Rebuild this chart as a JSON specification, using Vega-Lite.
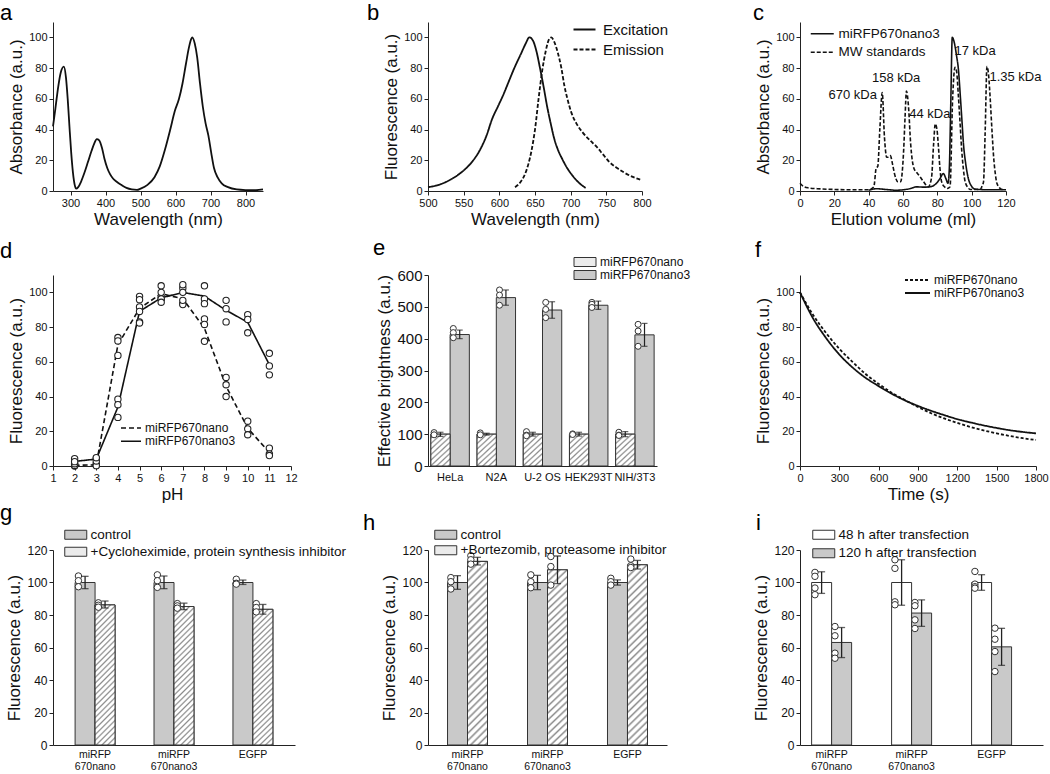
{
"$schema": "https://vega.github.io/schema/vega-lite/v6.json",
"background": "white",
"padding": {"left": 0, "top": 2, "right": 4, "bottom": 2},
"columns": 3,
"bounds": "flush",
"align": "each",
"spacing": {"row": 84, "column": 133},
"resolve": {"scale": {"fill": "independent", "strokeDash": "independent"}, "legend": {"fill": "independent", "strokeDash": "independent"}},
"config": {
  "font": "Liberation Sans",
  "view": {"stroke": null},
  "axis": {"domainColor": "#222", "tickColor": "#222", "labelColor": "#111", "titleColor": "#111", "grid": false, "tickSize": 4, "labelFontSize": 11, "titleFontSize": 17, "titleFontWeight": "normal", "labelFlush": false, "labelOverlap": false, "labelPadding": 2, "titlePadding": 3, "labelFont": "Liberation Sans", "titleFont": "Liberation Sans"},
  "axisBand": {"ticks": false, "labelAngle": 0},
  "legend": {"orient": "none", "labelFont": "Liberation Sans", "labelColor": "#111", "padding": 0, "rowPadding": 2},
  "title": {"anchor": "start", "frame": "group", "fontSize": 22, "fontWeight": "normal", "font": "Liberation Sans", "baseline": "alphabetic", "color": "#000"}
},
"concat": [
{
  "width": 210, "height": 169,
  "title": {"text": "a", "dx": -53, "offset": -3},
  "data": {"values": [
    {"nm":250,"abs":42},{"nm":257,"abs":54},{"nm":265,"abs":68},{"nm":272,"abs":77},{"nm":281,"abs":81},{"nm":287,"abs":74},{"nm":292,"abs":60},{"nm":297,"abs":42},{"nm":302,"abs":25},{"nm":307,"abs":12},{"nm":312,"abs":4},{"nm":316,"abs":1.5},{"nm":322,"abs":2.5},{"nm":330,"abs":6},{"nm":340,"abs":12},{"nm":350,"abs":19},{"nm":360,"abs":26},{"nm":368,"abs":31},{"nm":375,"abs":33.8},{"nm":382,"abs":33},{"nm":390,"abs":28},{"nm":397,"abs":21},{"nm":405,"abs":15},{"nm":413,"abs":11},{"nm":422,"abs":8},{"nm":432,"abs":6},{"nm":445,"abs":4},{"nm":460,"abs":2},{"nm":475,"abs":1},{"nm":490,"abs":0.7},{"nm":500,"abs":1.5},{"nm":520,"abs":4},{"nm":540,"abs":9},{"nm":555,"abs":16},{"nm":570,"abs":27},{"nm":585,"abs":40},{"nm":598,"abs":52},{"nm":610,"abs":60},{"nm":620,"abs":70},{"nm":630,"abs":83},{"nm":638,"abs":93},{"nm":645,"abs":99},{"nm":648,"abs":100},{"nm":655,"abs":96},{"nm":662,"abs":87},{"nm":670,"abs":70},{"nm":678,"abs":55},{"nm":686,"abs":44},{"nm":694,"abs":36},{"nm":702,"abs":25},{"nm":710,"abs":15},{"nm":720,"abs":9},{"nm":732,"abs":5},{"nm":750,"abs":2.5},{"nm":775,"abs":1},{"nm":800,"abs":0.6},{"nm":830,"abs":0.5},{"nm":850,"abs":1}
  ]},
  "mark": {"type": "line", "interpolate": "monotone", "color": "#111", "strokeWidth": 1.8},
  "encoding": {
    "x": {"field": "nm", "type": "quantitative", "scale": {"domain": [250, 850], "nice": false, "zero": false}, "axis": {"values": [300,400,500,600,700,800], "title": "Wavelength (nm)", "labelOverlap": false}},
    "y": {"field": "abs", "type": "quantitative", "scale": {"domain": [0, 110], "nice": false}, "axis": {"values": [0,20,40,60,80,100], "title": "Absorbance (a.u.)", "labelOverlap": false}}
  }
},
{
  "width": 214, "height": 169,
  "title": {"text": "b", "dx": -61, "offset": -3},
  "data": {"values": [
    {"s":"Excitation","nm":500,"v":2.5},{"s":"Excitation","nm":515,"v":4},{"s":"Excitation","nm":530,"v":7},{"s":"Excitation","nm":545,"v":11.5},{"s":"Excitation","nm":560,"v":18},{"s":"Excitation","nm":572,"v":26},{"s":"Excitation","nm":582,"v":36},{"s":"Excitation","nm":590,"v":47},{"s":"Excitation","nm":598,"v":55},{"s":"Excitation","nm":605,"v":62},{"s":"Excitation","nm":613,"v":71},{"s":"Excitation","nm":621,"v":80},{"s":"Excitation","nm":630,"v":89},{"s":"Excitation","nm":637,"v":96},{"s":"Excitation","nm":642,"v":100},{"s":"Excitation","nm":647,"v":98},{"s":"Excitation","nm":652,"v":91},{"s":"Excitation","nm":657,"v":80},{"s":"Excitation","nm":662,"v":68},{"s":"Excitation","nm":667,"v":55},{"s":"Excitation","nm":672,"v":44},{"s":"Excitation","nm":677,"v":34},{"s":"Excitation","nm":682,"v":27},{"s":"Excitation","nm":688,"v":21},{"s":"Excitation","nm":695,"v":15},{"s":"Excitation","nm":701,"v":11},{"s":"Excitation","nm":708,"v":7},{"s":"Excitation","nm":715,"v":4},{"s":"Excitation","nm":721,"v":2},
    {"s":"Emission","nm":622,"v":2.5},{"s":"Emission","nm":630,"v":6},{"s":"Emission","nm":636,"v":11},{"s":"Emission","nm":641,"v":18},{"s":"Emission","nm":645,"v":26},{"s":"Emission","nm":650,"v":40},{"s":"Emission","nm":655,"v":60},{"s":"Emission","nm":660,"v":78},{"s":"Emission","nm":665,"v":91},{"s":"Emission","nm":670,"v":99},{"s":"Emission","nm":673,"v":100},{"s":"Emission","nm":677,"v":97},{"s":"Emission","nm":682,"v":90},{"s":"Emission","nm":687,"v":80},{"s":"Emission","nm":691,"v":69},{"s":"Emission","nm":696,"v":59},{"s":"Emission","nm":701,"v":51},{"s":"Emission","nm":708,"v":44},{"s":"Emission","nm":717,"v":38},{"s":"Emission","nm":727,"v":33},{"s":"Emission","nm":736,"v":29},{"s":"Emission","nm":745,"v":24},{"s":"Emission","nm":754,"v":19},{"s":"Emission","nm":765,"v":15},{"s":"Emission","nm":775,"v":12},{"s":"Emission","nm":788,"v":9},{"s":"Emission","nm":800,"v":7}
  ]},
  "mark": {"type": "line", "interpolate": "monotone", "color": "#111", "strokeWidth": 1.8},
  "encoding": {
    "x": {"field": "nm", "type": "quantitative", "scale": {"domain": [500, 800], "nice": false, "zero": false}, "axis": {"values": [500,550,600,650,700,750,800], "title": "Wavelength (nm)", "labelOverlap": false}},
    "y": {"field": "v", "type": "quantitative", "scale": {"domain": [0, 110], "nice": false}, "axis": {"values": [0,20,40,60,80,100], "title": "Fluorescence (a.u.)", "labelOverlap": false}},
    "strokeDash": {"field": "s", "type": "nominal", "scale": {"domain": ["Excitation", "Emission"], "range": [[1,0],[4,2]]}, "legend": {"title": null, "legendX": 143, "legendY": 0, "labelFontSize": 15, "symbolType": "M-1,0H3.4", "symbolSize": 100, "symbolFillColor": "transparent", "symbolStrokeWidth": 1.8, "symbolStrokeColor": "#111", "labelOffset": 17, "rowPadding": 4}}
  }
},
{
  "width": 206, "height": 169,
  "title": {"text": "c", "dx": -47, "offset": -3},
  "resolve": {"axis": {"x": "independent", "y": "independent"}},
  "layer": [
    {
      "data": {"values": [
        {"s":"MW standards","ml":0,"v":5},{"s":"MW standards","ml":2,"v":3},{"s":"MW standards","ml":5,"v":2},{"s":"MW standards","ml":10,"v":1.5},{"s":"MW standards","ml":20,"v":1},{"s":"MW standards","ml":30,"v":0.8},{"s":"MW standards","ml":40,"v":0.8},{"s":"MW standards","ml":43,"v":2.7},{"s":"MW standards","ml":44.4,"v":15},{"s":"MW standards","ml":45.3,"v":16},{"s":"MW standards","ml":46.5,"v":40},{"s":"MW standards","ml":47.9,"v":64},{"s":"MW standards","ml":49.2,"v":35},{"s":"MW standards","ml":50.5,"v":22},{"s":"MW standards","ml":51.5,"v":22},{"s":"MW standards","ml":52.6,"v":23},{"s":"MW standards","ml":54,"v":17},{"s":"MW standards","ml":55.1,"v":11},{"s":"MW standards","ml":57,"v":6},{"s":"MW standards","ml":58.6,"v":6},{"s":"MW standards","ml":60.4,"v":27},{"s":"MW standards","ml":61.2,"v":48},{"s":"MW standards","ml":62,"v":65},{"s":"MW standards","ml":63.2,"v":55},{"s":"MW standards","ml":64.5,"v":30},{"s":"MW standards","ml":66.3,"v":15},{"s":"MW standards","ml":68,"v":12},{"s":"MW standards","ml":69.8,"v":9.5},{"s":"MW standards","ml":72,"v":6},{"s":"MW standards","ml":74.7,"v":2.7},{"s":"MW standards","ml":76.6,"v":8.4},{"s":"MW standards","ml":77.8,"v":30},{"s":"MW standards","ml":78.8,"v":43.6},{"s":"MW standards","ml":79.8,"v":40},{"s":"MW standards","ml":80.5,"v":31},{"s":"MW standards","ml":81.5,"v":15},{"s":"MW standards","ml":82.5,"v":6},{"s":"MW standards","ml":84.4,"v":2.5},{"s":"MW standards","ml":85.8,"v":1.6},{"s":"MW standards","ml":87.4,"v":2.7},{"s":"MW standards","ml":88.9,"v":60},{"s":"MW standards","ml":90.3,"v":80.5},{"s":"MW standards","ml":91.2,"v":78},{"s":"MW standards","ml":92.2,"v":63},{"s":"MW standards","ml":93.2,"v":45},{"s":"MW standards","ml":94.2,"v":26.6},{"s":"MW standards","ml":95.2,"v":14},{"s":"MW standards","ml":96.2,"v":6},{"s":"MW standards","ml":98,"v":2},{"s":"MW standards","ml":99,"v":1},{"s":"MW standards","ml":105,"v":1},{"s":"MW standards","ml":106,"v":3},{"s":"MW standards","ml":106.9,"v":6},{"s":"MW standards","ml":107.9,"v":40},{"s":"MW standards","ml":108.9,"v":81},{"s":"MW standards","ml":109.9,"v":75},{"s":"MW standards","ml":110.8,"v":60},{"s":"MW standards","ml":111.8,"v":40},{"s":"MW standards","ml":112.8,"v":22},{"s":"MW standards","ml":113.8,"v":11},{"s":"MW standards","ml":114.7,"v":5},{"s":"MW standards","ml":116.7,"v":1.6},{"s":"MW standards","ml":118,"v":1},
        {"s":"miRFP670nano3","ml":40,"v":0.5},{"s":"miRFP670nano3","ml":45,"v":1.5},{"s":"miRFP670nano3","ml":48,"v":1.2},{"s":"miRFP670nano3","ml":52,"v":0.8},{"s":"miRFP670nano3","ml":56,"v":0.5},{"s":"miRFP670nano3","ml":60,"v":0.8},{"s":"miRFP670nano3","ml":64,"v":1.5},{"s":"miRFP670nano3","ml":68,"v":2.7},{"s":"miRFP670nano3","ml":72,"v":2.5},{"s":"miRFP670nano3","ml":76,"v":2.8},{"s":"miRFP670nano3","ml":79,"v":4.5},{"s":"miRFP670nano3","ml":81.5,"v":8},{"s":"miRFP670nano3","ml":83.5,"v":11.4},{"s":"miRFP670nano3","ml":85,"v":8},{"s":"miRFP670nano3","ml":86.2,"v":5},{"s":"miRFP670nano3","ml":87,"v":15},{"s":"miRFP670nano3","ml":87.8,"v":55},{"s":"miRFP670nano3","ml":88.7,"v":100},{"s":"miRFP670nano3","ml":90,"v":96},{"s":"miRFP670nano3","ml":91.2,"v":88},{"s":"miRFP670nano3","ml":92.2,"v":80},{"s":"miRFP670nano3","ml":93.5,"v":60},{"s":"miRFP670nano3","ml":94.5,"v":43},{"s":"miRFP670nano3","ml":95.2,"v":31},{"s":"miRFP670nano3","ml":96.5,"v":18},{"s":"miRFP670nano3","ml":98,"v":8.4},{"s":"miRFP670nano3","ml":100,"v":3},{"s":"miRFP670nano3","ml":102,"v":1.2},{"s":"miRFP670nano3","ml":110,"v":0.8},{"s":"miRFP670nano3","ml":120,"v":0.8}
      ]},
      "mark": {"type": "line", "interpolate": "monotone", "color": "#111", "strokeWidth": 1.6},
      "encoding": {
        "x": {"field": "ml", "type": "quantitative", "scale": {"domain": [0, 120], "nice": false}, "axis": {"values": [0,20,40,60,80,100,120], "title": "Elution volume (ml)", "labelOverlap": false}},
        "y": {"field": "v", "type": "quantitative", "scale": {"domain": [0, 110], "nice": false}, "axis": {"values": [0,20,40,60,80,100], "title": "Absorbance (a.u.)", "labelOverlap": false}},
        "strokeDash": {"field": "s", "type": "nominal", "scale": {"domain": ["miRFP670nano3", "MW standards"], "range": [[1,0],[4,2]]}, "legend": {"title": null, "legendX": 9, "legendY": 5, "labelFontSize": 13.5, "symbolType": "M-1,0H3.6", "symbolSize": 100, "symbolFillColor": "transparent", "symbolStrokeWidth": 1.7, "symbolStrokeColor": "#111", "labelOffset": 16, "rowPadding": 3.5}}
      }
    },
    {
      "data": {"values": [
        {"label":"670 kDa","ml":30.7,"v":62.5},{"label":"158 kDa","ml":56,"v":73.6},{"label":"44 kDa","ml":75.6,"v":49.8},{"label":"17 kDa","ml":102,"v":91.4},{"label":"1.35 kDa","ml":125.5,"v":74.3}
      ]},
      "mark": {"type": "text", "fontSize": 13, "color": "#111", "align": "center", "baseline": "middle"},
      "encoding": {
        "x": {"field": "ml", "type": "quantitative", "axis": null},
        "y": {"field": "v", "type": "quantitative", "axis": null},
        "text": {"field": "label"}
      }
    }
  ]
},
{
  "width": 238, "height": 191,
  "title": {"text": "d", "dx": -53, "offset": 12},
  "resolve": {"axis": {"x": "independent", "y": "independent"}},
  "data": {"values": [
    {"s":"miRFP670nano","pH":2,"v":0.8},{"s":"miRFP670nano","pH":2,"v":0},{"s":"miRFP670nano","pH":2,"v":0.3},
    {"s":"miRFP670nano","pH":3,"v":1.3},{"s":"miRFP670nano","pH":3,"v":0.5},{"s":"miRFP670nano","pH":3,"v":0.2},
    {"s":"miRFP670nano","pH":4,"v":74},{"s":"miRFP670nano","pH":4,"v":72},{"s":"miRFP670nano","pH":4,"v":63.7},
    {"s":"miRFP670nano","pH":5,"v":97.7},{"s":"miRFP670nano","pH":5,"v":91.6},{"s":"miRFP670nano","pH":5,"v":83},
    {"s":"miRFP670nano","pH":6,"v":103.8},{"s":"miRFP670nano","pH":6,"v":97.7},{"s":"miRFP670nano","pH":6,"v":96.2},
    {"s":"miRFP670nano","pH":7,"v":102.5},{"s":"miRFP670nano","pH":7,"v":93.5},{"s":"miRFP670nano","pH":7,"v":93},
    {"s":"miRFP670nano","pH":8,"v":84.7},{"s":"miRFP670nano","pH":8,"v":81.5},{"s":"miRFP670nano","pH":8,"v":71.8},
    {"s":"miRFP670nano","pH":9,"v":51},{"s":"miRFP670nano","pH":9,"v":46.8},{"s":"miRFP670nano","pH":9,"v":40},
    {"s":"miRFP670nano","pH":10,"v":25.8},{"s":"miRFP670nano","pH":10,"v":21.4},{"s":"miRFP670nano","pH":10,"v":18},
    {"s":"miRFP670nano","pH":11,"v":10.3},{"s":"miRFP670nano","pH":11,"v":7},{"s":"miRFP670nano","pH":11,"v":6},
    {"s":"miRFP670nano3","pH":2,"v":4.2},{"s":"miRFP670nano3","pH":2,"v":1.3},{"s":"miRFP670nano3","pH":2,"v":2.5},
    {"s":"miRFP670nano3","pH":3,"v":4.2},{"s":"miRFP670nano3","pH":3,"v":2.9},{"s":"miRFP670nano3","pH":3,"v":4.8},
    {"s":"miRFP670nano3","pH":4,"v":38.5},{"s":"miRFP670nano3","pH":4,"v":35.3},{"s":"miRFP670nano3","pH":4,"v":28},
    {"s":"miRFP670nano3","pH":5,"v":95.8},{"s":"miRFP670nano3","pH":5,"v":89},{"s":"miRFP670nano3","pH":5,"v":82.4},
    {"s":"miRFP670nano3","pH":6,"v":100},{"s":"miRFP670nano3","pH":6,"v":96.2},{"s":"miRFP670nano3","pH":6,"v":94.3},
    {"s":"miRFP670nano3","pH":7,"v":104.4},{"s":"miRFP670nano3","pH":7,"v":100},{"s":"miRFP670nano3","pH":7,"v":95.4},
    {"s":"miRFP670nano3","pH":8,"v":103.8},{"s":"miRFP670nano3","pH":8,"v":96.2},{"s":"miRFP670nano3","pH":8,"v":93.5},
    {"s":"miRFP670nano3","pH":9,"v":95.4},{"s":"miRFP670nano3","pH":9,"v":90.6},{"s":"miRFP670nano3","pH":9,"v":83},
    {"s":"miRFP670nano3","pH":10,"v":87.2},{"s":"miRFP670nano3","pH":10,"v":84.4},{"s":"miRFP670nano3","pH":10,"v":76.7},
    {"s":"miRFP670nano3","pH":11,"v":64.9},{"s":"miRFP670nano3","pH":11,"v":57.6},{"s":"miRFP670nano3","pH":11,"v":52.5}
  ]},
  "layer": [
    {
      "mark": {"type": "line", "color": "#111", "strokeWidth": 1.6},
      "encoding": {
        "x": {"field": "pH", "type": "quantitative", "scale": {"domain": [1, 12], "nice": false, "zero": false}, "axis": {"values": [1,2,3,4,5,6,7,8,9,10,11,12], "title": "pH", "labelOverlap": false}},
        "y": {"aggregate": "mean", "field": "v", "type": "quantitative", "scale": {"domain": [0, 110], "nice": false}, "axis": {"values": [0,20,40,60,80,100], "title": "Fluorescence (a.u.)", "labelOverlap": false}},
        "strokeDash": {"field": "s", "type": "nominal", "scale": {"domain": ["miRFP670nano", "miRFP670nano3"], "range": [[5,3],[1,0]]}, "legend": {"title": null, "legendX": 67, "legendY": 147, "labelFontSize": 12, "symbolType": "M-1,0H3", "symbolSize": 100, "symbolFillColor": "transparent", "symbolStrokeWidth": 1.6, "symbolStrokeColor": "#111", "labelOffset": 13, "rowPadding": 1.3}}
      }
    },
    {
      "mark": {"type": "point", "shape": "circle", "filled": true, "fill": "white", "stroke": "#222", "strokeWidth": 1.1, "size": 40, "opacity": 1},
      "encoding": {
        "x": {"field": "pH", "type": "quantitative", "axis": null},
        "y": {"field": "v", "type": "quantitative", "axis": null}
      }
    }
  ]
},
{
  "width": 229, "height": 191,
  "title": {"text": "e", "dx": -55, "offset": -4},
  "resolve": {"scale": {"xOffset": "independent"}, "axis": {"x": "independent", "y": "independent"}},
  "layer": [
    {
      "data": {"name": "ebars", "values": [
        {"cell":"HeLa","s":"miRFP670nano","mean":100,"lo":93,"hi":106},{"cell":"HeLa","s":"miRFP670nano3","mean":413,"lo":400,"hi":427},
        {"cell":"N2A","s":"miRFP670nano","mean":100,"lo":97,"hi":103},{"cell":"N2A","s":"miRFP670nano3","mean":529,"lo":505,"hi":553},
        {"cell":"U-2 OS","s":"miRFP670nano","mean":100,"lo":94,"hi":106},{"cell":"U-2 OS","s":"miRFP670nano3","mean":490,"lo":464,"hi":516},
        {"cell":"HEK293T","s":"miRFP670nano","mean":100,"lo":94,"hi":106},{"cell":"HEK293T","s":"miRFP670nano3","mean":505,"lo":492,"hi":518},
        {"cell":"NIH/3T3","s":"miRFP670nano","mean":100,"lo":92,"hi":108},{"cell":"NIH/3T3","s":"miRFP670nano3","mean":412,"lo":376,"hi":448}
      ]},
      "mark": {"type": "bar", "stroke": "#333", "strokeWidth": 1},
      "encoding": {
        "x": {"field": "cell", "type": "nominal", "sort": null, "scale": {"domain": ["HeLa","N2A","U-2 OS","HEK293T","NIH/3T3"], "paddingInner": 0.167, "paddingOuter": 0.062}, "axis": {"title": null, "labelFontSize": 11, "labelPadding": 5, "labelOverlap": false}},
        "xOffset": {"field": "s", "scale": {"domain": ["miRFP670nano", "miRFP670nano3"]}},
        "y": {"field": "mean", "type": "quantitative", "scale": {"domain": [0, 600], "nice": false}, "axis": {"values": [0,100,200,300,400,500,600], "title": "Effective brightness (a.u.)", "labelFontSize": 15, "labelOverlap": false}},
        "fill": {"field": "s", "type": "nominal", "scale": {"domain": ["miRFP670nano", "miRFP670nano3"], "range": ["#ebebeb", "#c9c9c9"]}, "legend": {"title": null, "legendX": 145, "legendY": -19, "labelFontSize": 12, "symbolType": "M-1,-0.9H3.4V0.9H-1Z", "symbolSize": 100, "symbolStrokeColor": "#333", "symbolStrokeWidth": 1, "symbolOpacity": 1, "labelOffset": 15, "rowPadding": -1.5}}
      }
    },
    {
      "data": {"name": "ebars"},
      "transform": [{"filter": {"field": "s", "equal": "miRFP670nano"}}],
      "mark": {"type": "bar", "stroke": "#333", "strokeWidth": 1, "fill": {"gradient": "linear", "x1": 0, "y1": 0, "x2": 0.667, "y2": 1.19, "stops": [
            {"offset":0,"color":"#ffffff"},{"offset":0.0444,"color":"#ffffff"},{"offset":0.0778,"color":"#8c8c8c"},
            {"offset":0.1111,"color":"#ffffff"},{"offset":0.1556,"color":"#ffffff"},{"offset":0.1889,"color":"#8c8c8c"},
            {"offset":0.2222,"color":"#ffffff"},{"offset":0.2667,"color":"#ffffff"},{"offset":0.3,"color":"#8c8c8c"},
            {"offset":0.3333,"color":"#ffffff"},{"offset":0.3778,"color":"#ffffff"},{"offset":0.4111,"color":"#8c8c8c"},
            {"offset":0.4444,"color":"#ffffff"},{"offset":0.4889,"color":"#ffffff"},{"offset":0.5222,"color":"#8c8c8c"},
            {"offset":0.5556,"color":"#ffffff"},{"offset":0.6,"color":"#ffffff"},{"offset":0.6333,"color":"#8c8c8c"},
            {"offset":0.6667,"color":"#ffffff"},{"offset":0.7111,"color":"#ffffff"},{"offset":0.7444,"color":"#8c8c8c"},
            {"offset":0.7778,"color":"#ffffff"},{"offset":0.8222,"color":"#ffffff"},{"offset":0.8556,"color":"#8c8c8c"},
            {"offset":0.8889,"color":"#ffffff"},{"offset":0.9333,"color":"#ffffff"},{"offset":0.9667,"color":"#8c8c8c"},
            {"offset":1,"color":"#ffffff"}
          ]}},
      "encoding": {
        "x": {"field": "cell", "type": "nominal", "sort": null, "axis": null},
        "xOffset": {"field": "s", "scale": {"domain": ["miRFP670nano", "miRFP670nano3"]}},
        "y": {"field": "mean", "type": "quantitative", "axis": null}
      }
    },
    {
      "data": {"values": [
        {"cell":"HeLa","s":"miRFP670nano","v":105},{"cell":"HeLa","s":"miRFP670nano","v":98},{"cell":"HeLa","s":"miRFP670nano3","v":432},{"cell":"HeLa","s":"miRFP670nano3","v":419},{"cell":"HeLa","s":"miRFP670nano3","v":403},
        {"cell":"N2A","s":"miRFP670nano","v":104},{"cell":"N2A","s":"miRFP670nano","v":98},{"cell":"N2A","s":"miRFP670nano3","v":553},{"cell":"N2A","s":"miRFP670nano3","v":537},{"cell":"N2A","s":"miRFP670nano3","v":505},
        {"cell":"U-2 OS","s":"miRFP670nano","v":108},{"cell":"U-2 OS","s":"miRFP670nano","v":97},{"cell":"U-2 OS","s":"miRFP670nano","v":95},{"cell":"U-2 OS","s":"miRFP670nano3","v":514},{"cell":"U-2 OS","s":"miRFP670nano3","v":492},{"cell":"U-2 OS","s":"miRFP670nano3","v":466},
        {"cell":"HEK293T","s":"miRFP670nano","v":101},{"cell":"HEK293T","s":"miRFP670nano","v":99},{"cell":"HEK293T","s":"miRFP670nano3","v":514},{"cell":"HEK293T","s":"miRFP670nano3","v":508},{"cell":"HEK293T","s":"miRFP670nano3","v":498},
        {"cell":"NIH/3T3","s":"miRFP670nano","v":106},{"cell":"NIH/3T3","s":"miRFP670nano","v":97},{"cell":"NIH/3T3","s":"miRFP670nano","v":96},{"cell":"NIH/3T3","s":"miRFP670nano3","v":445},{"cell":"NIH/3T3","s":"miRFP670nano3","v":424},{"cell":"NIH/3T3","s":"miRFP670nano3","v":376}
      ]},
      "mark": {"type": "point", "shape": "circle", "filled": true, "fill": "white", "stroke": "#333", "strokeWidth": 1, "size": 36, "opacity": 1},
      "encoding": {
        "x": {"field": "cell", "type": "nominal", "sort": null, "axis": null},
        "xOffset": {"field": "s", "scale": {"domain": ["miRFP670nano", "p1", "p2", "miRFP670nano3", "p3", "p4"]}},
        "y": {"field": "v", "type": "quantitative", "axis": null}
      }
    },
    {
      "data": {"name": "ebars"},
      "mark": {"type": "rule", "color": "#222", "strokeWidth": 1.2},
      "encoding": {
        "x": {"field": "cell", "type": "nominal", "sort": null, "axis": null},
        "xOffset": {"field": "s", "scale": {"domain": ["miRFP670nano", "miRFP670nano3"]}},
        "y": {"field": "lo", "type": "quantitative", "axis": null},
        "y2": {"field": "hi"}
      }
    },
    {
      "data": {"name": "ebars"},
      "mark": {"type": "tick", "color": "#222", "size": 6, "thickness": 1.2, "orient": "horizontal"},
      "encoding": {
        "x": {"field": "cell", "type": "nominal", "sort": null, "axis": null},
        "xOffset": {"field": "s", "scale": {"domain": ["miRFP670nano", "miRFP670nano3"]}},
        "y": {"field": "lo", "type": "quantitative", "axis": null}
      }
    },
    {
      "data": {"name": "ebars"},
      "mark": {"type": "tick", "color": "#222", "size": 6, "thickness": 1.2, "orient": "horizontal"},
      "encoding": {
        "x": {"field": "cell", "type": "nominal", "sort": null, "axis": null},
        "xOffset": {"field": "s", "scale": {"domain": ["miRFP670nano", "miRFP670nano3"]}},
        "y": {"field": "hi", "type": "quantitative", "axis": null}
      }
    }
  ]
},
{
  "width": 236, "height": 191,
  "title": {"text": "f", "dx": -45, "offset": 12},
  "data": {"values": [
    {"s":"miRFP670nano","t":0,"v":100},{"s":"miRFP670nano","t":100,"v":87},{"s":"miRFP670nano","t":200,"v":76.5},{"s":"miRFP670nano","t":300,"v":67.5},{"s":"miRFP670nano","t":400,"v":60},{"s":"miRFP670nano","t":500,"v":53},{"s":"miRFP670nano","t":600,"v":47.3},{"s":"miRFP670nano","t":700,"v":42.2},{"s":"miRFP670nano","t":800,"v":38},{"s":"miRFP670nano","t":900,"v":34},{"s":"miRFP670nano","t":1000,"v":30.4},{"s":"miRFP670nano","t":1100,"v":27.4},{"s":"miRFP670nano","t":1200,"v":24.8},{"s":"miRFP670nano","t":1300,"v":22.5},{"s":"miRFP670nano","t":1400,"v":20.5},{"s":"miRFP670nano","t":1500,"v":18.8},{"s":"miRFP670nano","t":1600,"v":17.3},{"s":"miRFP670nano","t":1700,"v":16},{"s":"miRFP670nano","t":1800,"v":15},
    {"s":"miRFP670nano3","t":0,"v":100},{"s":"miRFP670nano3","t":100,"v":85},{"s":"miRFP670nano3","t":200,"v":73.6},{"s":"miRFP670nano3","t":300,"v":64.2},{"s":"miRFP670nano3","t":400,"v":56.8},{"s":"miRFP670nano3","t":500,"v":50.8},{"s":"miRFP670nano3","t":600,"v":46},{"s":"miRFP670nano3","t":700,"v":41.6},{"s":"miRFP670nano3","t":800,"v":37.8},{"s":"miRFP670nano3","t":900,"v":34.6},{"s":"miRFP670nano3","t":1000,"v":31.8},{"s":"miRFP670nano3","t":1100,"v":29.3},{"s":"miRFP670nano3","t":1200,"v":27},{"s":"miRFP670nano3","t":1300,"v":25.1},{"s":"miRFP670nano3","t":1400,"v":23.4},{"s":"miRFP670nano3","t":1500,"v":21.9},{"s":"miRFP670nano3","t":1600,"v":20.6},{"s":"miRFP670nano3","t":1700,"v":19.6},{"s":"miRFP670nano3","t":1800,"v":18.8}
  ]},
  "mark": {"type": "line", "interpolate": "monotone", "color": "#111", "strokeWidth": 1.8},
  "encoding": {
    "x": {"field": "t", "type": "quantitative", "scale": {"domain": [0, 1800], "nice": false}, "axis": {"values": [0,300,600,900,1200,1500,1800], "title": "Time (s)", "format": "d", "labelOverlap": false}},
    "y": {"field": "v", "type": "quantitative", "scale": {"domain": [0, 110], "nice": false}, "axis": {"values": [0,20,40,60,80,100], "title": "Fluorescence (a.u.)", "labelOverlap": false}},
    "strokeDash": {"field": "s", "type": "nominal", "scale": {"domain": ["miRFP670nano", "miRFP670nano3"], "range": [[3,2],[1,0]]}, "legend": {"title": null, "legendX": 104, "legendY": -1, "labelFontSize": 12, "symbolType": "M-1,0H4", "symbolSize": 100, "symbolFillColor": "transparent", "symbolStrokeWidth": 1.8, "symbolStrokeColor": "#111", "labelOffset": 18, "rowPadding": 1}}
  }
},
{
  "width": 242, "height": 195,
  "title": {"text": "g", "dx": -53, "offset": 3},
  "resolve": {"scale": {"xOffset": "independent"}, "axis": {"x": "independent", "y": "independent"}},
  "layer": [
    {
      "data": {"name": "gbars", "values": [
        {"cat":"miRFP 670nano","trt":"control","mean":100,"lo":96.2,"hi":103.8},{"cat":"miRFP 670nano","trt":"CHX","mean":86.2,"lo":84.3,"hi":88.6},
        {"cat":"miRFP 670nano3","trt":"control","mean":100,"lo":96.2,"hi":104},{"cat":"miRFP 670nano3","trt":"CHX","mean":85.2,"lo":83.3,"hi":87.3},
        {"cat":"EGFP","trt":"control","mean":100,"lo":98.8,"hi":101.5},{"cat":"EGFP","trt":"CHX","mean":83.5,"lo":80.5,"hi":86.5}
      ]},
      "mark": {"type": "bar", "stroke": "#333", "strokeWidth": 1},
      "encoding": {
        "x": {"field": "cat", "type": "nominal", "sort": null, "scale": {"domain": ["miRFP 670nano","miRFP 670nano3","EGFP"], "paddingInner": 0.494, "paddingOuter": 0.28}, "axis": {"title": null, "labelExpr": "split(datum.label, ' ')", "labelFontSize": 10.5, "labelPadding": 4, "labelLineHeight": 12, "labelOverlap": false}},
        "xOffset": {"field": "trt", "scale": {"domain": ["control", "CHX"]}},
        "y": {"field": "mean", "type": "quantitative", "scale": {"domain": [0, 120], "nice": false}, "axis": {"values": [0,20,40,60,80,100,120], "title": "Fluorescence (a.u.)", "labelFontSize": 12, "labelOverlap": false}},
        "fill": {"field": "trt", "type": "nominal", "scale": {"domain": ["control", "CHX"], "range": ["#c9c9c9", "#ebebeb"]}, "legend": {"title": null, "legendX": 10, "legendY": -22, "labelFontSize": 13.5, "labelExpr": "datum.label == 'CHX' ? '+Cycloheximide, protein synthesis inhibitor' : '\u00a0\u00a0control'", "labelLimit": 400, "symbolType": "M-1,-0.9H3.4V0.9H-1Z", "symbolSize": 100, "symbolStrokeColor": "#333", "symbolStrokeWidth": 1, "symbolOpacity": 1, "labelOffset": 14, "rowPadding": 2}}
      }
    },
    {
      "data": {"name": "gbars"},
      "transform": [{"filter": {"field": "trt", "equal": "CHX"}}],
      "mark": {"type": "bar", "stroke": "#333", "strokeWidth": 1, "fill": {"gradient": "linear", "x1": 0, "y1": 0, "x2": 0.16, "y2": 1.12, "stops": [
            {"offset":0,"color":"#ffffff"},{"offset":0.0143,"color":"#ffffff"},{"offset":0.025,"color":"#8c8c8c"},
            {"offset":0.0357,"color":"#ffffff"},{"offset":0.05,"color":"#ffffff"},{"offset":0.0607,"color":"#8c8c8c"},
            {"offset":0.0714,"color":"#ffffff"},{"offset":0.0857,"color":"#ffffff"},{"offset":0.0964,"color":"#8c8c8c"},
            {"offset":0.1071,"color":"#ffffff"},{"offset":0.1214,"color":"#ffffff"},{"offset":0.1321,"color":"#8c8c8c"},
            {"offset":0.1429,"color":"#ffffff"},{"offset":0.1571,"color":"#ffffff"},{"offset":0.1679,"color":"#8c8c8c"},
            {"offset":0.1786,"color":"#ffffff"},{"offset":0.1929,"color":"#ffffff"},{"offset":0.2036,"color":"#8c8c8c"},
            {"offset":0.2143,"color":"#ffffff"},{"offset":0.2286,"color":"#ffffff"},{"offset":0.2393,"color":"#8c8c8c"},
            {"offset":0.25,"color":"#ffffff"},{"offset":0.2643,"color":"#ffffff"},{"offset":0.275,"color":"#8c8c8c"},
            {"offset":0.2857,"color":"#ffffff"},{"offset":0.3,"color":"#ffffff"},{"offset":0.3107,"color":"#8c8c8c"},
            {"offset":0.3214,"color":"#ffffff"},{"offset":0.3357,"color":"#ffffff"},{"offset":0.3464,"color":"#8c8c8c"},
            {"offset":0.3571,"color":"#ffffff"},{"offset":0.3714,"color":"#ffffff"},{"offset":0.3821,"color":"#8c8c8c"},
            {"offset":0.3929,"color":"#ffffff"},{"offset":0.4071,"color":"#ffffff"},{"offset":0.4179,"color":"#8c8c8c"},
            {"offset":0.4286,"color":"#ffffff"},{"offset":0.4429,"color":"#ffffff"},{"offset":0.4536,"color":"#8c8c8c"},
            {"offset":0.4643,"color":"#ffffff"},{"offset":0.4786,"color":"#ffffff"},{"offset":0.4893,"color":"#8c8c8c"},
            {"offset":0.5,"color":"#ffffff"},{"offset":0.5143,"color":"#ffffff"},{"offset":0.525,"color":"#8c8c8c"},
            {"offset":0.5357,"color":"#ffffff"},{"offset":0.55,"color":"#ffffff"},{"offset":0.5607,"color":"#8c8c8c"},
            {"offset":0.5714,"color":"#ffffff"},{"offset":0.5857,"color":"#ffffff"},{"offset":0.5964,"color":"#8c8c8c"},
            {"offset":0.6071,"color":"#ffffff"},{"offset":0.6214,"color":"#ffffff"},{"offset":0.6321,"color":"#8c8c8c"},
            {"offset":0.6429,"color":"#ffffff"},{"offset":0.6571,"color":"#ffffff"},{"offset":0.6679,"color":"#8c8c8c"},
            {"offset":0.6786,"color":"#ffffff"},{"offset":0.6929,"color":"#ffffff"},{"offset":0.7036,"color":"#8c8c8c"},
            {"offset":0.7143,"color":"#ffffff"},{"offset":0.7286,"color":"#ffffff"},{"offset":0.7393,"color":"#8c8c8c"},
            {"offset":0.75,"color":"#ffffff"},{"offset":0.7643,"color":"#ffffff"},{"offset":0.775,"color":"#8c8c8c"},
            {"offset":0.7857,"color":"#ffffff"},{"offset":0.8,"color":"#ffffff"},{"offset":0.8107,"color":"#8c8c8c"},
            {"offset":0.8214,"color":"#ffffff"},{"offset":0.8357,"color":"#ffffff"},{"offset":0.8464,"color":"#8c8c8c"},
            {"offset":0.8571,"color":"#ffffff"},{"offset":0.8714,"color":"#ffffff"},{"offset":0.8821,"color":"#8c8c8c"},
            {"offset":0.8929,"color":"#ffffff"},{"offset":0.9071,"color":"#ffffff"},{"offset":0.9179,"color":"#8c8c8c"},
            {"offset":0.9286,"color":"#ffffff"},{"offset":0.9429,"color":"#ffffff"},{"offset":0.9536,"color":"#8c8c8c"},
            {"offset":0.9643,"color":"#ffffff"},{"offset":0.9786,"color":"#ffffff"},{"offset":0.9893,"color":"#8c8c8c"},
            {"offset":1,"color":"#ffffff"}
          ]}},
      "encoding": {
        "x": {"field": "cat", "type": "nominal", "sort": null, "axis": null},
        "xOffset": {"field": "trt", "scale": {"domain": ["control", "CHX"]}},
        "y": {"field": "mean", "type": "quantitative", "axis": null}
      }
    },
    {
      "data": {"values": [
        {"cat":"miRFP 670nano","trt":"control","v":104},{"cat":"miRFP 670nano","trt":"control","v":101.1},{"cat":"miRFP 670nano","trt":"control","v":97.4},
        {"cat":"miRFP 670nano","trt":"CHX","v":87.5},{"cat":"miRFP 670nano","trt":"CHX","v":86},{"cat":"miRFP 670nano","trt":"CHX","v":84.8},
        {"cat":"miRFP 670nano3","trt":"control","v":104.7},{"cat":"miRFP 670nano3","trt":"control","v":101.1},{"cat":"miRFP 670nano3","trt":"control","v":97},
        {"cat":"miRFP 670nano3","trt":"CHX","v":87},{"cat":"miRFP 670nano3","trt":"CHX","v":85.6},{"cat":"miRFP 670nano3","trt":"CHX","v":84.2},
        {"cat":"EGFP","trt":"control","v":102},{"cat":"EGFP","trt":"control","v":99.5},{"cat":"EGFP","trt":"control","v":99},
        {"cat":"EGFP","trt":"CHX","v":87},{"cat":"EGFP","trt":"CHX","v":84.6},{"cat":"EGFP","trt":"CHX","v":81.9}
      ]},
      "mark": {"type": "point", "shape": "circle", "filled": true, "fill": "white", "stroke": "#333", "strokeWidth": 1, "size": 42, "opacity": 1},
      "encoding": {
        "x": {"field": "cat", "type": "nominal", "sort": null, "axis": null},
        "xOffset": {"field": "trt", "scale": {"domain": ["control", "p1", "p2", "CHX", "p3", "p4"]}},
        "y": {"field": "v", "type": "quantitative", "axis": null}
      }
    },
    {
      "data": {"name": "gbars"},
      "mark": {"type": "rule", "color": "#222", "strokeWidth": 1.3},
      "encoding": {
        "x": {"field": "cat", "type": "nominal", "sort": null, "axis": null},
        "xOffset": {"field": "trt", "scale": {"domain": ["control", "CHX"]}},
        "y": {"field": "lo", "type": "quantitative", "axis": null},
        "y2": {"field": "hi"}
      }
    },
    {
      "data": {"name": "gbars"},
      "mark": {"type": "tick", "color": "#222", "size": 7, "thickness": 1.3, "orient": "horizontal"},
      "encoding": {
        "x": {"field": "cat", "type": "nominal", "sort": null, "axis": null},
        "xOffset": {"field": "trt", "scale": {"domain": ["control", "CHX"]}},
        "y": {"field": "lo", "type": "quantitative", "axis": null}
      }
    },
    {
      "data": {"name": "gbars"},
      "mark": {"type": "tick", "color": "#222", "size": 7, "thickness": 1.3, "orient": "horizontal"},
      "encoding": {
        "x": {"field": "cat", "type": "nominal", "sort": null, "axis": null},
        "xOffset": {"field": "trt", "scale": {"domain": ["control", "CHX"]}},
        "y": {"field": "hi", "type": "quantitative", "axis": null}
      }
    }
  ]
},
{
  "width": 239, "height": 195,
  "title": {"text": "h", "dx": -65, "offset": -7},
  "resolve": {"scale": {"xOffset": "independent"}, "axis": {"x": "independent", "y": "independent"}},
  "layer": [
    {
      "data": {"name": "hbars", "values": [
        {"cat":"miRFP 670nano","trt":"control","mean":100,"lo":95.8,"hi":104.2},{"cat":"miRFP 670nano","trt":"BTZ","mean":113,"lo":110.8,"hi":115.5},
        {"cat":"miRFP 670nano3","trt":"control","mean":100,"lo":95.6,"hi":104.4},{"cat":"miRFP 670nano3","trt":"BTZ","mean":107.8,"lo":99.3,"hi":116.3},
        {"cat":"EGFP","trt":"control","mean":100,"lo":98.4,"hi":101.6},{"cat":"EGFP","trt":"BTZ","mean":110.9,"lo":108.3,"hi":113.6}
      ]},
      "mark": {"type": "bar", "stroke": "#333", "strokeWidth": 1},
      "encoding": {
        "x": {"field": "cat", "type": "nominal", "sort": null, "scale": {"domain": ["miRFP 670nano","miRFP 670nano3","EGFP"], "paddingInner": 0.5, "paddingOuter": 0.244}, "axis": {"title": null, "labelExpr": "split(datum.label, ' ')", "labelFontSize": 10.5, "labelPadding": 4, "labelLineHeight": 12, "labelOverlap": false}},
        "xOffset": {"field": "trt", "scale": {"domain": ["control", "BTZ"]}},
        "y": {"field": "mean", "type": "quantitative", "scale": {"domain": [0, 120], "nice": false}, "axis": {"values": [0,20,40,60,80,100,120], "title": "Fluorescence (a.u.)", "labelFontSize": 12, "labelOverlap": false}},
        "fill": {"field": "trt", "type": "nominal", "scale": {"domain": ["control", "BTZ"], "range": ["#c9c9c9", "#ebebeb"]}, "legend": {"title": null, "legendX": 5, "legendY": -22, "labelFontSize": 13.5, "labelExpr": "datum.label == 'BTZ' ? '+Bortezomib, proteasome inhibitor' : '\u00a0\u00a0control'", "labelLimit": 400, "symbolType": "M-1,-0.9H3.4V0.9H-1Z", "symbolSize": 100, "symbolStrokeColor": "#333", "symbolStrokeWidth": 1, "symbolOpacity": 1, "labelOffset": 14, "rowPadding": 0.5}}
      }
    },
    {
      "data": {"name": "hbars"},
      "transform": [{"filter": {"field": "trt", "equal": "BTZ"}}],
      "mark": {"type": "bar", "stroke": "#333", "strokeWidth": 1, "fill": {"gradient": "linear", "x1": 0, "y1": 0, "x2": 0.119, "y2": 1.095, "stops": [
            {"offset":0,"color":"#ffffff"},{"offset":0.0143,"color":"#ffffff"},{"offset":0.025,"color":"#8c8c8c"},
            {"offset":0.0357,"color":"#ffffff"},{"offset":0.05,"color":"#ffffff"},{"offset":0.0607,"color":"#8c8c8c"},
            {"offset":0.0714,"color":"#ffffff"},{"offset":0.0857,"color":"#ffffff"},{"offset":0.0964,"color":"#8c8c8c"},
            {"offset":0.1071,"color":"#ffffff"},{"offset":0.1214,"color":"#ffffff"},{"offset":0.1321,"color":"#8c8c8c"},
            {"offset":0.1429,"color":"#ffffff"},{"offset":0.1571,"color":"#ffffff"},{"offset":0.1679,"color":"#8c8c8c"},
            {"offset":0.1786,"color":"#ffffff"},{"offset":0.1929,"color":"#ffffff"},{"offset":0.2036,"color":"#8c8c8c"},
            {"offset":0.2143,"color":"#ffffff"},{"offset":0.2286,"color":"#ffffff"},{"offset":0.2393,"color":"#8c8c8c"},
            {"offset":0.25,"color":"#ffffff"},{"offset":0.2643,"color":"#ffffff"},{"offset":0.275,"color":"#8c8c8c"},
            {"offset":0.2857,"color":"#ffffff"},{"offset":0.3,"color":"#ffffff"},{"offset":0.3107,"color":"#8c8c8c"},
            {"offset":0.3214,"color":"#ffffff"},{"offset":0.3357,"color":"#ffffff"},{"offset":0.3464,"color":"#8c8c8c"},
            {"offset":0.3571,"color":"#ffffff"},{"offset":0.3714,"color":"#ffffff"},{"offset":0.3821,"color":"#8c8c8c"},
            {"offset":0.3929,"color":"#ffffff"},{"offset":0.4071,"color":"#ffffff"},{"offset":0.4179,"color":"#8c8c8c"},
            {"offset":0.4286,"color":"#ffffff"},{"offset":0.4429,"color":"#ffffff"},{"offset":0.4536,"color":"#8c8c8c"},
            {"offset":0.4643,"color":"#ffffff"},{"offset":0.4786,"color":"#ffffff"},{"offset":0.4893,"color":"#8c8c8c"},
            {"offset":0.5,"color":"#ffffff"},{"offset":0.5143,"color":"#ffffff"},{"offset":0.525,"color":"#8c8c8c"},
            {"offset":0.5357,"color":"#ffffff"},{"offset":0.55,"color":"#ffffff"},{"offset":0.5607,"color":"#8c8c8c"},
            {"offset":0.5714,"color":"#ffffff"},{"offset":0.5857,"color":"#ffffff"},{"offset":0.5964,"color":"#8c8c8c"},
            {"offset":0.6071,"color":"#ffffff"},{"offset":0.6214,"color":"#ffffff"},{"offset":0.6321,"color":"#8c8c8c"},
            {"offset":0.6429,"color":"#ffffff"},{"offset":0.6571,"color":"#ffffff"},{"offset":0.6679,"color":"#8c8c8c"},
            {"offset":0.6786,"color":"#ffffff"},{"offset":0.6929,"color":"#ffffff"},{"offset":0.7036,"color":"#8c8c8c"},
            {"offset":0.7143,"color":"#ffffff"},{"offset":0.7286,"color":"#ffffff"},{"offset":0.7393,"color":"#8c8c8c"},
            {"offset":0.75,"color":"#ffffff"},{"offset":0.7643,"color":"#ffffff"},{"offset":0.775,"color":"#8c8c8c"},
            {"offset":0.7857,"color":"#ffffff"},{"offset":0.8,"color":"#ffffff"},{"offset":0.8107,"color":"#8c8c8c"},
            {"offset":0.8214,"color":"#ffffff"},{"offset":0.8357,"color":"#ffffff"},{"offset":0.8464,"color":"#8c8c8c"},
            {"offset":0.8571,"color":"#ffffff"},{"offset":0.8714,"color":"#ffffff"},{"offset":0.8821,"color":"#8c8c8c"},
            {"offset":0.8929,"color":"#ffffff"},{"offset":0.9071,"color":"#ffffff"},{"offset":0.9179,"color":"#8c8c8c"},
            {"offset":0.9286,"color":"#ffffff"},{"offset":0.9429,"color":"#ffffff"},{"offset":0.9536,"color":"#8c8c8c"},
            {"offset":0.9643,"color":"#ffffff"},{"offset":0.9786,"color":"#ffffff"},{"offset":0.9893,"color":"#8c8c8c"},
            {"offset":1,"color":"#ffffff"}
          ]}},
      "encoding": {
        "x": {"field": "cat", "type": "nominal", "sort": null, "axis": null},
        "xOffset": {"field": "trt", "scale": {"domain": ["control", "BTZ"]}},
        "y": {"field": "mean", "type": "quantitative", "axis": null}
      }
    },
    {
      "data": {"values": [
        {"cat":"miRFP 670nano","trt":"control","v":103},{"cat":"miRFP 670nano","trt":"control","v":100.5},{"cat":"miRFP 670nano","trt":"control","v":96},
        {"cat":"miRFP 670nano","trt":"BTZ","v":116.5},{"cat":"miRFP 670nano","trt":"BTZ","v":114},{"cat":"miRFP 670nano","trt":"BTZ","v":111.3},
        {"cat":"miRFP 670nano3","trt":"control","v":104.7},{"cat":"miRFP 670nano3","trt":"control","v":100.5},{"cat":"miRFP 670nano3","trt":"control","v":96.8},
        {"cat":"miRFP 670nano3","trt":"BTZ","v":116},{"cat":"miRFP 670nano3","trt":"BTZ","v":109.8},{"cat":"miRFP 670nano3","trt":"BTZ","v":98.4},
        {"cat":"EGFP","trt":"control","v":102.6},{"cat":"EGFP","trt":"control","v":100.5},{"cat":"EGFP","trt":"control","v":98.4},
        {"cat":"EGFP","trt":"BTZ","v":114.4},{"cat":"EGFP","trt":"BTZ","v":110.3},{"cat":"EGFP","trt":"BTZ","v":109.2}
      ]},
      "mark": {"type": "point", "shape": "circle", "filled": true, "fill": "white", "stroke": "#333", "strokeWidth": 1, "size": 42, "opacity": 1},
      "encoding": {
        "x": {"field": "cat", "type": "nominal", "sort": null, "axis": null},
        "xOffset": {"field": "trt", "scale": {"domain": ["control", "p1", "p2", "BTZ", "p3", "p4"]}},
        "y": {"field": "v", "type": "quantitative", "axis": null}
      }
    },
    {
      "data": {"name": "hbars"},
      "mark": {"type": "rule", "color": "#222", "strokeWidth": 1.3},
      "encoding": {
        "x": {"field": "cat", "type": "nominal", "sort": null, "axis": null},
        "xOffset": {"field": "trt", "scale": {"domain": ["control", "BTZ"]}},
        "y": {"field": "lo", "type": "quantitative", "axis": null},
        "y2": {"field": "hi"}
      }
    },
    {
      "data": {"name": "hbars"},
      "mark": {"type": "tick", "color": "#222", "size": 7, "thickness": 1.3, "orient": "horizontal"},
      "encoding": {
        "x": {"field": "cat", "type": "nominal", "sort": null, "axis": null},
        "xOffset": {"field": "trt", "scale": {"domain": ["control", "BTZ"]}},
        "y": {"field": "lo", "type": "quantitative", "axis": null}
      }
    },
    {
      "data": {"name": "hbars"},
      "mark": {"type": "tick", "color": "#222", "size": 7, "thickness": 1.3, "orient": "horizontal"},
      "encoding": {
        "x": {"field": "cat", "type": "nominal", "sort": null, "axis": null},
        "xOffset": {"field": "trt", "scale": {"domain": ["control", "BTZ"]}},
        "y": {"field": "hi", "type": "quantitative", "axis": null}
      }
    }
  ]
},
{
  "width": 243, "height": 195,
  "title": {"text": "i", "dx": -44, "offset": -7},
  "resolve": {"scale": {"xOffset": "independent"}, "axis": {"x": "independent", "y": "independent"}},
  "layer": [
    {
      "data": {"name": "ibars", "values": [
        {"cat":"miRFP 670nano","trt":"48 h after transfection","mean":100,"lo":93.3,"hi":106.6},{"cat":"miRFP 670nano","trt":"120 h after transfection","mean":63.1,"lo":53.8,"hi":72.3},
        {"cat":"miRFP 670nano3","trt":"48 h after transfection","mean":100,"lo":86,"hi":114},{"cat":"miRFP 670nano3","trt":"120 h after transfection","mean":81.2,"lo":73,"hi":89.3},
        {"cat":"EGFP","trt":"48 h after transfection","mean":100,"lo":95.2,"hi":104.8},{"cat":"EGFP","trt":"120 h after transfection","mean":60.4,"lo":49,"hi":71.8}
      ]},
      "mark": {"type": "bar", "stroke": "#333", "strokeWidth": 1},
      "encoding": {
        "x": {"field": "cat", "type": "nominal", "sort": null, "scale": {"domain": ["miRFP 670nano","miRFP 670nano3","EGFP"], "paddingInner": 0.5, "paddingOuter": 0.269, "align": 0.27}, "axis": {"title": null, "labelExpr": "split(datum.label, ' ')", "labelFontSize": 10.5, "labelPadding": 4, "labelLineHeight": 12, "labelOverlap": false}},
        "xOffset": {"field": "trt", "scale": {"domain": ["48 h after transfection", "120 h after transfection"]}},
        "y": {"field": "mean", "type": "quantitative", "scale": {"domain": [0, 120], "nice": false}, "axis": {"values": [0,20,40,60,80,100,120], "title": "Fluorescence (a.u.)", "labelFontSize": 12, "labelOverlap": false}},
        "fill": {"field": "trt", "type": "nominal", "scale": {"domain": ["48 h after transfection", "120 h after transfection"], "range": ["#ffffff", "#c9c9c9"]}, "legend": {"title": null, "legendX": 11, "legendY": -22, "labelFontSize": 13.5, "labelLimit": 400, "symbolType": "M-1,-0.9H3.4V0.9H-1Z", "symbolSize": 100, "symbolStrokeColor": "#333", "symbolStrokeWidth": 1, "symbolOpacity": 1, "labelOffset": 14, "rowPadding": 3.5}}
      }
    },
    {
      "data": {"values": [
        {"cat":"miRFP 670nano","trt":"48 h after transfection","v":106.2},{"cat":"miRFP 670nano","trt":"48 h after transfection","v":103.8},{"cat":"miRFP 670nano","trt":"48 h after transfection","v":96.6},{"cat":"miRFP 670nano","trt":"48 h after transfection","v":92.5},
        {"cat":"miRFP 670nano","trt":"120 h after transfection","v":72.9},{"cat":"miRFP 670nano","trt":"120 h after transfection","v":67.2},{"cat":"miRFP 670nano","trt":"120 h after transfection","v":56.5},{"cat":"miRFP 670nano","trt":"120 h after transfection","v":53.4},
        {"cat":"miRFP 670nano3","trt":"48 h after transfection","v":114},{"cat":"miRFP 670nano3","trt":"48 h after transfection","v":108.7},{"cat":"miRFP 670nano3","trt":"48 h after transfection","v":88.1},{"cat":"miRFP 670nano3","trt":"48 h after transfection","v":86.3},
        {"cat":"miRFP 670nano3","trt":"120 h after transfection","v":87.7},{"cat":"miRFP 670nano3","trt":"120 h after transfection","v":85.7},{"cat":"miRFP 670nano3","trt":"120 h after transfection","v":77},{"cat":"miRFP 670nano3","trt":"120 h after transfection","v":71.7},
        {"cat":"EGFP","trt":"48 h after transfection","v":106.8},{"cat":"EGFP","trt":"48 h after transfection","v":99},{"cat":"EGFP","trt":"48 h after transfection","v":97.4},{"cat":"EGFP","trt":"48 h after transfection","v":96.5},
        {"cat":"EGFP","trt":"120 h after transfection","v":71.9},{"cat":"EGFP","trt":"120 h after transfection","v":65.1},{"cat":"EGFP","trt":"120 h after transfection","v":57.5},{"cat":"EGFP","trt":"120 h after transfection","v":45.2}
      ]},
      "mark": {"type": "point", "shape": "circle", "filled": true, "fill": "white", "stroke": "#333", "strokeWidth": 1, "size": 42, "opacity": 1},
      "encoding": {
        "x": {"field": "cat", "type": "nominal", "sort": null, "axis": null},
        "xOffset": {"field": "trt", "scale": {"domain": ["48 h after transfection", "p1", "p2", "120 h after transfection", "p3", "p4"]}},
        "y": {"field": "v", "type": "quantitative", "axis": null}
      }
    },
    {
      "data": {"name": "ibars"},
      "mark": {"type": "rule", "color": "#222", "strokeWidth": 1.3},
      "encoding": {
        "x": {"field": "cat", "type": "nominal", "sort": null, "axis": null},
        "xOffset": {"field": "trt", "scale": {"domain": ["48 h after transfection", "120 h after transfection"]}},
        "y": {"field": "lo", "type": "quantitative", "axis": null},
        "y2": {"field": "hi"}
      }
    },
    {
      "data": {"name": "ibars"},
      "mark": {"type": "tick", "color": "#222", "size": 7, "thickness": 1.3, "orient": "horizontal"},
      "encoding": {
        "x": {"field": "cat", "type": "nominal", "sort": null, "axis": null},
        "xOffset": {"field": "trt", "scale": {"domain": ["48 h after transfection", "120 h after transfection"]}},
        "y": {"field": "lo", "type": "quantitative", "axis": null}
      }
    },
    {
      "data": {"name": "ibars"},
      "mark": {"type": "tick", "color": "#222", "size": 7, "thickness": 1.3, "orient": "horizontal"},
      "encoding": {
        "x": {"field": "cat", "type": "nominal", "sort": null, "axis": null},
        "xOffset": {"field": "trt", "scale": {"domain": ["48 h after transfection", "120 h after transfection"]}},
        "y": {"field": "hi", "type": "quantitative", "axis": null}
      }
    }
  ]
}
]
}
